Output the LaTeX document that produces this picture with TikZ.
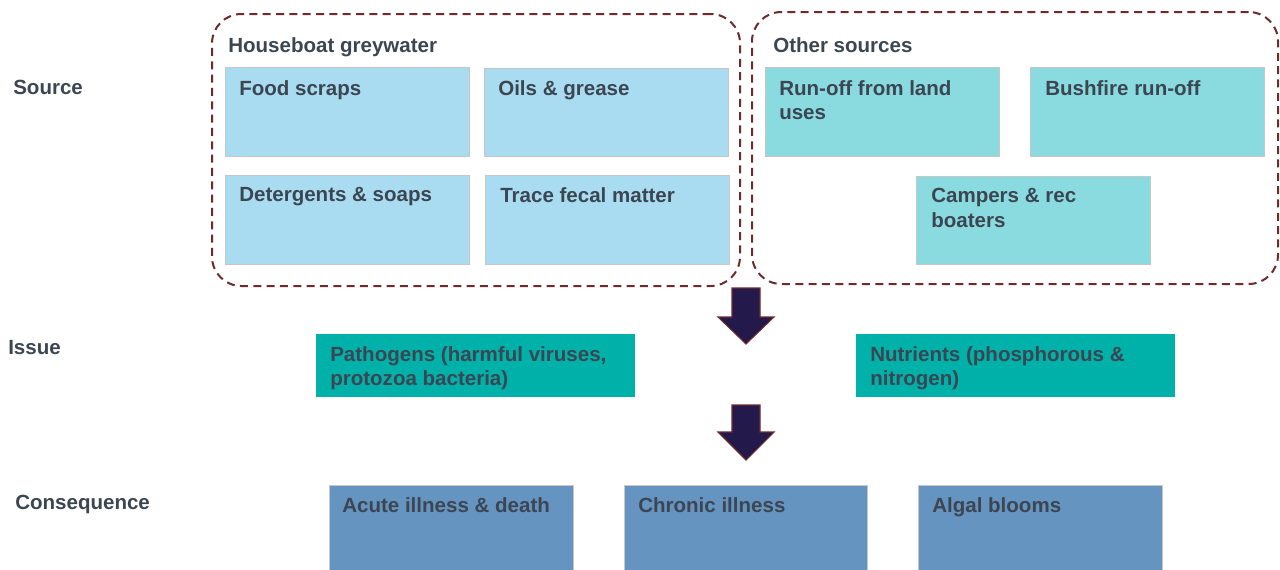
\documentclass[tikz,border=0pt]{standalone}
\usepackage{fontspec}
\setmainfont{Liberation Sans}
\usetikzlibrary{fit}
\definecolor{lblue}{HTML}{A9DCF0}
\definecolor{cyanb}{HTML}{89DBDF}
\definecolor{tealb}{HTML}{00B1A9}
\definecolor{steelb}{HTML}{6694C1}
\definecolor{txtc}{HTML}{3B4652}
\definecolor{dashc}{HTML}{6E2B2B}
\definecolor{navy}{HTML}{231A4B}
\tikzset{
  box/.style={inner sep=0pt, draw=black!22, line width=0.6pt},
  group/.style={inner sep=0pt, draw=dashc, line width=1.5pt, dash pattern=on 6pt off 4pt, rounded corners=22pt},
  txt/.style={anchor=north west, inner sep=0pt, align=left, text=txtc, font=\fontsize{15.4}{18.6}\selectfont\bfseries},
  blockarrow/.style={fill=navy, draw=dashc, line width=0.8pt}
}
\begin{document}
\begin{tikzpicture}[x=0.75pt, y=-0.75pt]
\useasboundingbox (0,0) rectangle (1280,569);
% groups
\node[group, fit={(212,14) (740,286)}] (hb) {};
\node[group, fit={(752,12) (1278,284)}] (os) {};
\node[txt] (hbt) at (228,37) {Houseboat greywater};
\node[txt] (ost) at (773,37) {Other sources};
% source boxes
\node[box, fill=lblue, fit={(225,67) (469,156)}] (food) {};
\node[box, fill=lblue, fit={(484,68) (728,156)}] (oils) {};
\node[box, fill=lblue, fit={(225,175) (469,264)}] (det) {};
\node[box, fill=lblue, fit={(485,175) (729,264)}] (trace) {};
\node[box, fill=cyanb, fit={(765,67) (999,156)}] (run) {};
\node[box, fill=cyanb, fit={(1030,67) (1264,156)}] (bush) {};
\node[box, fill=cyanb, fit={(916,176) (1150,264)}] (camp) {};
\node[txt] at (239,80) {Food scraps};
\node[txt] at (498,80) {Oils \& grease};
\node[txt] at (239,187) {Detergents \& soaps};
\node[txt] at (500,187) {Trace fecal matter};
\node[txt] at (779,80) {Run-off from land\\uses};
\node[txt] at (1045,80) {Bushfire run-off};
\node[txt] at (931,188) {Campers \& rec\\boaters};
% issue boxes
\node[box, draw=none, fill=tealb, fit={(316,334) (635,397)}] (path) {};
\node[box, draw=none, fill=tealb, fit={(856,334) (1175,397)}] (nut) {};
\node[txt] at (330,346) {Pathogens (harmful viruses,\\protozoa bacteria)};
\node[txt] at (870,346) {Nutrients (phosphorous \&\\nitrogen)};
% consequence boxes
\node[box, fill=steelb, fit={(329,485) (573,572)}] (acute) {};
\node[box, fill=steelb, fit={(624,485) (867,572)}] (chronic) {};
\node[box, fill=steelb, fit={(918,485) (1162,572)}] (algal) {};
\node[txt] at (342,497) {Acute illness \& death};
\node[txt] at (638,497) {Chronic illness};
\node[txt] at (932,497) {Algal blooms};
% row labels
\node[txt] (lsrc) at (13,80) {Source};
\node[txt] (liss) at (8,340) {Issue};
\node[txt] (lcon) at (15,495) {Consequence};
% block arrows
\filldraw[blockarrow] (732,288) -- (760,288) -- (760,317) -- (774,317) -- (746,344) -- (718,317) -- (732,317) -- cycle;
\filldraw[blockarrow] (732,405) -- (760,405) -- (760,432) -- (774,432) -- (746,460) -- (718,432) -- (732,432) -- cycle;
\end{tikzpicture}
\end{document}
